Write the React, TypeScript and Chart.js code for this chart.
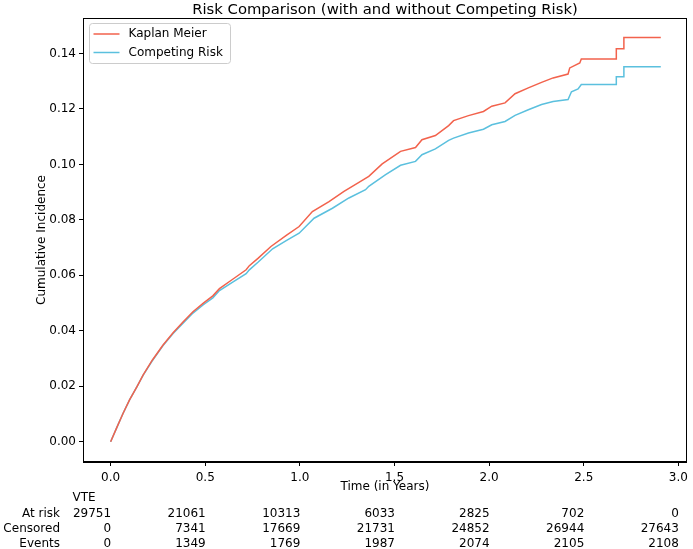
import React, { useEffect, useRef } from "react";
import { Chart, registerables } from "chart.js";

Chart.register(...registerables);

const chartTitle = "Risk Comparison (with and without Competing Risk)";
const xAxisLabel = "Time (in Years)";
const yAxisLabel = "Cumulative Incidence";
const seriesLabels = ["Kaplan Meier", "Competing Risk"];
const seriesColors = ["#F2624C", "#5BC0DE"];

const kmTimes = [
  0, 0.033, 0.066, 0.1, 0.14, 0.172, 0.22, 0.277, 0.33, 0.38, 0.435, 0.49, 0.54, 0.575, 0.645,
  0.716, 0.733, 0.78, 0.847, 0.93, 0.996, 1.066, 1.154, 1.233, 1.312, 1.364, 1.435, 1.532, 1.611,
  1.645, 1.716, 1.786, 1.812, 1.891, 1.97, 2.014, 2.084, 2.137, 2.207, 2.277, 2.338, 2.417, 2.426,
  2.479, 2.487, 2.672, 2.672, 2.712, 2.712, 2.907,
];
const kmValues = [
  0, 0.0052, 0.0103, 0.0151, 0.02, 0.0241, 0.0294, 0.0349, 0.0393, 0.043, 0.0469, 0.05, 0.0526,
  0.0552, 0.0586, 0.062, 0.0635, 0.0662, 0.0704, 0.0745, 0.0776, 0.083, 0.0866, 0.0903, 0.0935,
  0.0957, 0.1002, 0.1047, 0.1061, 0.1089, 0.1104, 0.114, 0.1158, 0.1176, 0.1191, 0.121, 0.1222,
  0.1255, 0.1276, 0.1296, 0.1312, 0.1326, 0.1348, 0.1366, 0.138, 0.138, 0.1417, 0.1417, 0.1458,
  0.1458,
];

const crTimes = [
  0, 0.033, 0.066, 0.1, 0.14, 0.172, 0.22, 0.277, 0.33, 0.38, 0.435, 0.49, 0.54, 0.575, 0.645,
  0.716, 0.733, 0.78, 0.856, 0.93, 0.996, 1.075, 1.172, 1.259, 1.347, 1.364, 1.453, 1.532, 1.611,
  1.645, 1.716, 1.786, 1.812, 1.891, 1.97, 2.014, 2.084, 2.137, 2.207, 2.277, 2.338, 2.417, 2.435,
  2.47, 2.487, 2.672, 2.672, 2.712, 2.712, 2.907,
];
const crValues = [
  0, 0.0052, 0.0103, 0.0151, 0.02, 0.024, 0.0292, 0.0347, 0.039, 0.0426, 0.0464, 0.0494, 0.0519,
  0.0545, 0.0576, 0.0606, 0.062, 0.0648, 0.0696, 0.0726, 0.0752, 0.0806, 0.0842, 0.0879, 0.0909,
  0.0921, 0.0963, 0.0997, 0.1011, 0.1035, 0.1056, 0.1087, 0.1095, 0.1113, 0.1127, 0.1143, 0.1155,
  0.1177, 0.1197, 0.1216, 0.1227, 0.1234, 0.1262, 0.1272, 0.1288, 0.1288, 0.1316, 0.1316, 0.1352,
  0.1352,
];

const xTicks = [0, 0.5, 1, 1.5, 2, 2.5, 3];
const yTicks = [0, 0.02, 0.04, 0.06, 0.08, 0.1, 0.12, 0.14];

const tableTitle = "VTE";
const tableRowLabels = ["At risk", "Censored", "Events"];
const atRiskCounts = [29751, 21061, 10313, 6033, 2825, 702, 0];
const censoredCounts = [0, 7341, 17669, 21731, 24852, 26944, 27643];
const eventCounts = [0, 1349, 1769, 1987, 2074, 2105, 2108];

const FONT = "'DejaVu Sans', sans-serif";

export default function App() {
  const ref = useRef<HTMLCanvasElement>(null);

  useEffect(() => {
    document.body.style.margin = "0";
    const canvas = ref.current;
    if (!canvas) return;

    const overlay = {
      id: "overlay",
      afterDatasetsDraw(chart: any) {
        const ctx = chart.ctx;
        const ca = chart.chartArea;
        ctx.save();
        // frame
        ctx.strokeStyle = "#000";
        ctx.lineWidth = 1;
        ctx.strokeRect(Math.round(ca.left) + 0.5, Math.round(ca.top) + 0.5, Math.round(ca.right - ca.left) - 1, Math.round(ca.bottom - ca.top) - 1);
        // legend
        const bx = ca.left + 6.5;
        const by = ca.top + 5.5;
        const bw = 141;
        const bh = 40;
        ctx.beginPath();
        (ctx as any).roundRect(bx, by, bw, bh, 3);
        ctx.fillStyle = "rgba(255,255,255,0.8)";
        ctx.fill();
        ctx.strokeStyle = "#cccccc";
        ctx.stroke();
        ctx.font = `12px ${FONT}`;
        ctx.textBaseline = "middle";
        ctx.textAlign = "left";
        seriesLabels.forEach((lbl, i) => {
          const ly = by + 10.5 + i * 18.5;
          ctx.strokeStyle = seriesColors[i];
          ctx.lineWidth = 1.5;
          ctx.beginPath();
          ctx.moveTo(bx + 4, ly);
          ctx.lineTo(bx + 30, ly);
          ctx.stroke();
          ctx.fillStyle = "#000";
          ctx.fillText(lbl, bx + 39, ly);
        });
        ctx.restore();
      },
      afterDraw(chart: any) {
        const ctx = chart.ctx;
        const ca = chart.chartArea;
        const xs = chart.scales.x;
        ctx.save();
        ctx.fillStyle = "#000";
        // title
        ctx.font = `14.8px ${FONT}`;
        ctx.textAlign = "center";
        ctx.textBaseline = "alphabetic";
        ctx.fillText(chartTitle, (ca.left + ca.right) / 2, 14);
        // at-risk table
        ctx.font = `12px ${FONT}`;
        ctx.textBaseline = "middle";
        const rows = [atRiskCounts, censoredCounts, eventCounts];
        const rowY = [513.5, 529, 544];
        const x0 = xs.getPixelForValue(xTicks[0]);
        const firstW = ctx.measureText(String(atRiskCounts[0])).width;
        ctx.textAlign = "left";
        ctx.fillText(tableTitle, x0 - firstW, 498);
        tableRowLabels.forEach((lbl, r) => {
          ctx.textAlign = "right";
          ctx.fillText(lbl, 60, rowY[r]);
          rows[r].forEach((v, i) => {
            ctx.fillText(String(v), xs.getPixelForValue(xTicks[i]) + 0.5, rowY[r]);
          });
        });
        ctx.restore();
      },
    };

    const chart = new Chart(canvas, {
      type: "line",
      data: {
        datasets: [
          {
            label: seriesLabels[0],
            data: kmTimes.map((t, i) => ({ x: t, y: kmValues[i] })),
            borderColor: seriesColors[0],
            borderWidth: 1.5,
            pointRadius: 0,
            tension: 0,
            fill: false,
          },
          {
            label: seriesLabels[1],
            data: crTimes.map((t, i) => ({ x: t, y: crValues[i] })),
            borderColor: seriesColors[1],
            borderWidth: 1.5,
            pointRadius: 0,
            tension: 0,
            fill: false,
          },
        ],
      },
      options: {
        animation: false,
        responsive: false,
        devicePixelRatio: 1,
        layout: { padding: { left: 0, right: 5, top: 18, bottom: 55 } },
        plugins: {
          legend: { display: false },
          title: { display: false },
          tooltip: { enabled: false },
        },
        scales: {
          x: {
            type: "linear",
            min: -0.146,
            max: 3.045,
            afterFit: (s: any) => {
              s.height = 32;
            },
            afterBuildTicks: (s: any) => {
              s.ticks = xTicks.map((v) => ({ value: v }));
            },
            ticks: {
              callback: (v: any) => Number(v).toFixed(1),
              color: "#000",
              font: { family: FONT, size: 12 },
              padding: 5,
              maxRotation: 0,
              autoSkip: false,
            },
            grid: { drawOnChartArea: false, drawTicks: true, tickLength: 4, color: "#000" },
            border: { color: "#000", width: 1 },
            title: {
              display: true,
              text: xAxisLabel,
              color: "#000",
              font: { family: FONT, size: 12 },
              padding: { top: 0, bottom: 0 },
            },
          },
          y: {
            type: "linear",
            min: -0.0073,
            max: 0.1528,
            afterFit: (s: any) => {
              s.width = 83;
            },
            afterBuildTicks: (s: any) => {
              s.ticks = yTicks.map((v) => ({ value: v }));
            },
            ticks: {
              callback: (v: any) => Number(v).toFixed(2),
              color: "#000",
              font: { family: FONT, size: 12 },
              padding: 3,
            },
            grid: { drawOnChartArea: false, drawTicks: true, tickLength: 4, color: "#000" },
            border: { color: "#000", width: 1 },
            title: {
              display: true,
              text: yAxisLabel,
              color: "#000",
              font: { family: FONT, size: 12 },
              padding: { top: 35, bottom: 0 },
            },
          },
        },
      },
      plugins: [overlay],
    });

    return () => chart.destroy();
  }, []);

  return (
    <div style={{ width: 693, height: 549 }}>
      <canvas ref={ref} width={693} height={549} style={{ display: "block" }} />
    </div>
  );
}
